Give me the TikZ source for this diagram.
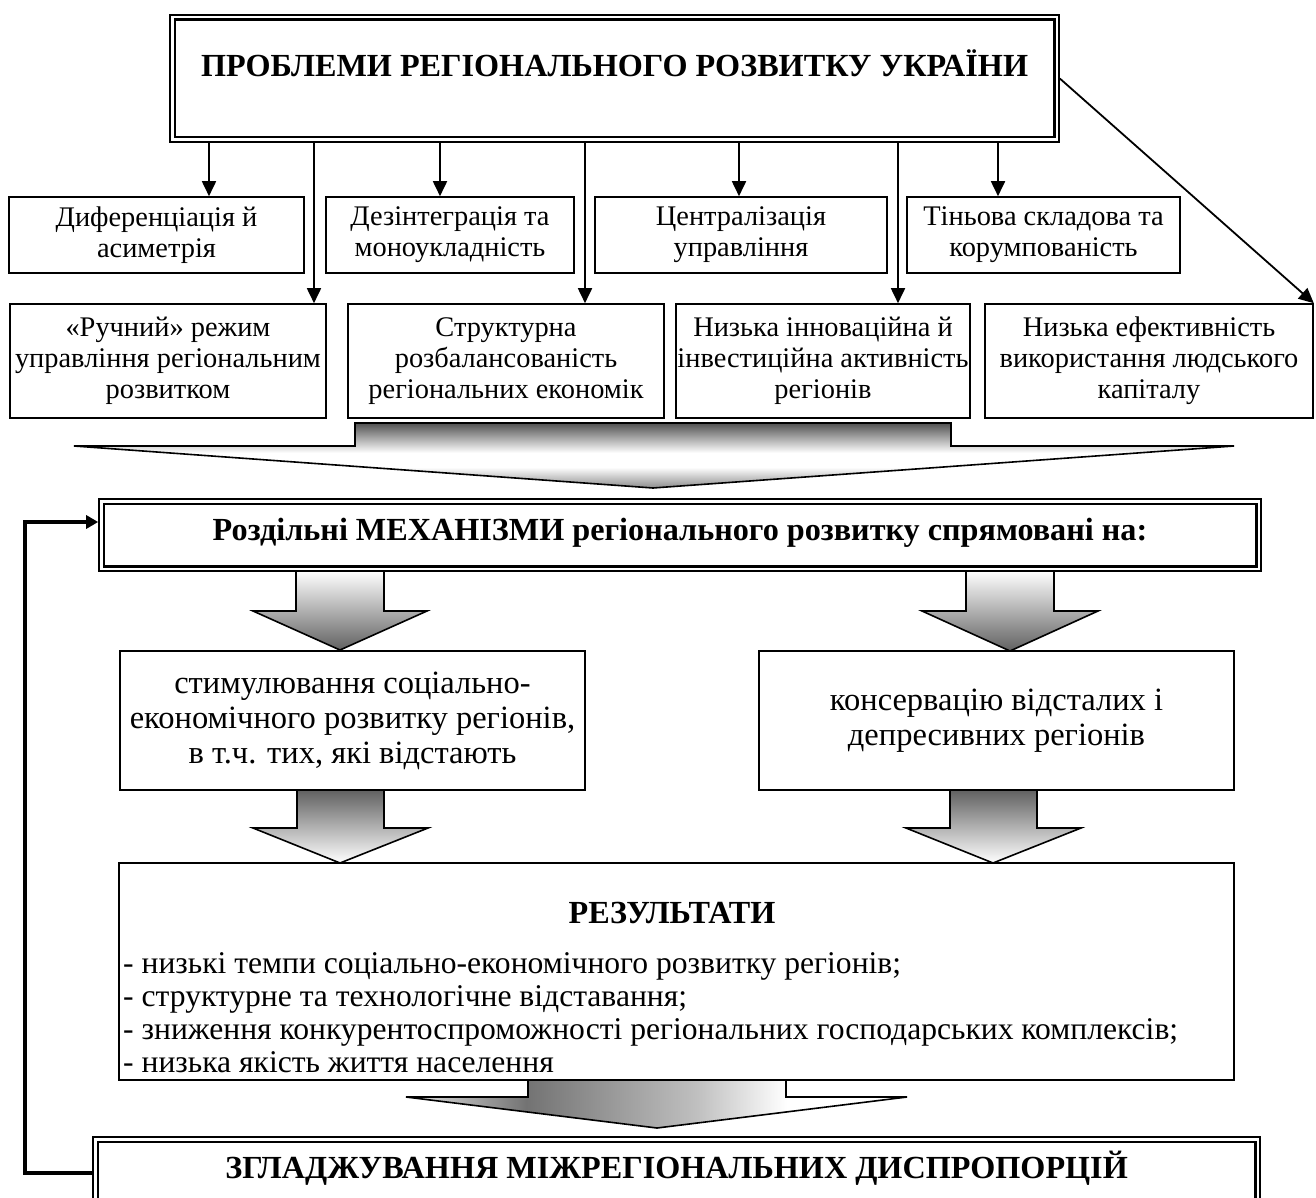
\documentclass[tikz,border=0pt]{standalone}
\usepackage{fontspec}
\setmainfont{Liberation Serif}
\usetikzlibrary{arrows.meta,calc}
\newcommand\fsTop{\fontsize{28.4}{31}\selectfont}
\newcommand\fsLow{\fontsize{32.5}{35}\selectfont}
\newcommand\fsRes{\fontsize{31.6}{33}\selectfont}
\newcommand\fsHead{\fontsize{32.2}{35}\selectfont\bfseries}
\pgfdeclareverticalshading{shA}{100bp}{color(0bp)=(black!45); color(25bp)=(black!45); color(41bp)=(white); color(52bp)=(white); color(75bp)=(black!68); color(100bp)=(black!68)}
\pgfdeclareverticalshading{shB}{100bp}{color(0bp)=(black!62); color(25bp)=(black!62); color(75bp)=(white); color(100bp)=(white)}
\pgfdeclareverticalshading{shC}{100bp}{color(0bp)=(white); color(25bp)=(white); color(75bp)=(black!62); color(100bp)=(black!62)}
\pgfdeclarehorizontalshading{shD}{100bp}{color(0bp)=(black!10); color(25bp)=(black!10); color(37bp)=(black!55); color(54bp)=(black!25); color(63bp)=(white); color(100bp)=(white)}
\begin{document}
\begin{tikzpicture}[x=1pt,y=-1pt,
  box/.style={draw, line width=1.6pt, align=center, inner xsep=1pt, inner ysep=2pt, font=\fsTop},
  lowbox/.style={box, font=\fsLow},
  arr/.style={line width=1.8pt, -{Triangle[width=14pt,length=15pt]}},
  fb/.style={line width=3.4pt, -{Triangle[width=13pt,length=12pt]}},
  blk/.style={draw, line width=1.6pt, line join=miter},
  txt/.style={inner sep=0pt}
]
\clip (0,0) rectangle (1316,1198);
\fill[white] (0,0) rectangle (1316,1198);

% title
\node[draw, line width=1.6pt, minimum width=889pt, minimum height=127pt] (T) at (614.5,78.5) {};
\draw[line width=2.4pt] ([xshift=5.5pt,yshift=-5.5pt]T.north west) rectangle ([xshift=-5.5pt,yshift=5.5pt]T.south east);
\node[txt, font=\fsHead, anchor=base] (Tt) at (614.5,77) {ПРОБЛЕМИ РЕГІОНАЛЬНОГО РОЗВИТКУ УКРАЇНИ};

% row 1
\node[box, minimum width=295pt, minimum height=76pt] (A1) at (156.5,235) {Диференціація й\\асиметрія};
\node[box, minimum width=248pt, minimum height=76pt] (A2) at (450,235) {Дезінтеграція та\\моноукладність};
\node[box, minimum width=292pt, minimum height=76pt] (A3) at (741,235) {Централізація\\управління};
\node[box, minimum width=273pt, minimum height=76pt] (A4) at (1043.5,235) {Тіньова складова та\\корумпованість};

% row 2
\node[box, minimum width=316pt, minimum height=114pt] (B1) at (168,361) {«Ручний» режим\\управління регіональним\\розвитком};
\node[box, minimum width=316pt, minimum height=114pt] (B2) at (506,361) {Структурна\\розбалансованість\\регіональних економік};
\node[box, minimum width=294pt, minimum height=114pt] (B3) at (823,361) {Низька інноваційна й\\інвестиційна активність\\регіонів};
\node[box, minimum width=328pt, minimum height=114pt] (B4) at (1149,361) {Низька ефективність\\використання людського\\капіталу};

% arrows from title
\coordinate (x1) at (209,0);
\coordinate (x2) at (440,0);
\coordinate (x3) at (739,0);
\coordinate (x4) at (998,0);
\coordinate (x5) at (314,0);
\coordinate (x6) at (585,0);
\coordinate (x7) at (898,0);
\draw[arr] (T.south -| x1) -- (A1.north -| x1);
\draw[arr] (T.south -| x2) -- (A2.north -| x2);
\draw[arr] (T.south -| x3) -- (A3.north -| x3);
\draw[arr] (T.south -| x4) -- (A4.north -| x4);
\draw[arr] (T.south -| x5) -- (B1.north -| x5);
\draw[arr] (T.south -| x6) -- (B2.north -| x6);
\draw[arr] (T.south -| x7) -- (B3.north -| x7);
\draw[arr] (T.east) -- (B4.north east);

% big block arrow 1
\shade[shading=shA] (355,423) -- (951,423) -- (951,446) -- (1234,446) -- (653,488) -- (74,446) -- (355,446) -- cycle;
\draw[blk] (355,423) -- (951,423) -- (951,446) -- (1234,446) -- (653,488) -- (74,446) -- (355,446) -- cycle;

% mechanisms box
\node[draw, line width=1.6pt, minimum width=1162pt, minimum height=72pt] (M) at (680,535) {};
\draw[line width=2.4pt] ([xshift=5.5pt,yshift=-5.5pt]M.north west) rectangle ([xshift=-5.5pt,yshift=5.5pt]M.south east);
\node[txt, font=\fsHead, anchor=base] (Mt) at (680,540) {Роздільні МЕХАНІЗМИ регіонального розвитку спрямовані на:};

% block arrows 2,3
\shade[shading=shB] (296,571) -- (384,571) -- (384,611) -- (427,611) -- (340,650) -- (253,611) -- (296,611) -- cycle;
\draw[blk] (296,571) -- (384,571) -- (384,611) -- (427,611) -- (340,650) -- (253,611) -- (296,611) -- cycle;
\shade[shading=shB] (966,571) -- (1054,571) -- (1054,611) -- (1098,611) -- (1010,651) -- (922,611) -- (966,611) -- cycle;
\draw[blk] (966,571) -- (1054,571) -- (1054,611) -- (1098,611) -- (1010,651) -- (922,611) -- (966,611) -- cycle;

% middle boxes
\node[lowbox, minimum width=465pt, minimum height=139pt] (S) at (352.5,720.5) {стимулювання соціально-\\економічного розвитку регіонів,\\в т.ч. тих, які відстають};
\node[lowbox, minimum width=475pt, minimum height=139pt] (K) at (996.5,720.5) {консервацію відсталих і\\депресивних регіонів};

% block arrows 4,5
\shade[shading=shC] (297,790) -- (384,790) -- (384,828) -- (428,828) -- (340,863) -- (253,828) -- (297,828) -- cycle;
\draw[blk] (297,790) -- (384,790) -- (384,828) -- (428,828) -- (340,863) -- (253,828) -- (297,828) -- cycle;
\shade[shading=shC] (950,790) -- (1037,790) -- (1037,828) -- (1081,828) -- (993,863) -- (906,828) -- (950,828) -- cycle;
\draw[blk] (950,790) -- (1037,790) -- (1037,828) -- (1081,828) -- (993,863) -- (906,828) -- (950,828) -- cycle;

% results
\node[draw, line width=1.6pt, minimum width=1115pt, minimum height=217pt] (R) at (676.5,971.5) {};
\node[txt, font=\fsHead, anchor=base] (Rt) at (672,923) {РЕЗУЛЬТАТИ};
\node[txt, font=\fsRes, anchor=base west] (R1) at (123,973) {- низькі темпи соціально-економічного розвитку регіонів;};
\node[txt, font=\fsRes, anchor=base west] (R2) at (123,1006) {- структурне та технологічне відставання;};
\node[txt, font=\fsRes, anchor=base west] (R3) at (123,1039) {- зниження конкурентоспроможності регіональних господарських комплексів;};
\node[txt, font=\fsRes, anchor=base west] (R4) at (123,1072) {- низька якість життя населення};

% block arrow 6
\shade[shading=shD] (528,1080) -- (786,1080) -- (786,1097) -- (907,1097) -- (657,1128) -- (406,1097) -- (528,1097) -- cycle;
\draw[blk] (528,1080) -- (786,1080) -- (786,1097) -- (907,1097) -- (657,1128) -- (406,1097) -- (528,1097) -- cycle;

% bottom box
\node[draw, line width=1.6pt, minimum width=1167pt, minimum height=100pt] (Z) at (676.5,1187) {};
\draw[line width=2.4pt] ([xshift=5.5pt,yshift=-5.5pt]Z.north west) rectangle ([xshift=-5.5pt,yshift=5.5pt]Z.south east);
\node[txt, font=\fsHead, anchor=base] (Zt) at (676.5,1178) {ЗГЛАДЖУВАННЯ МІЖРЕГІОНАЛЬНИХ ДИСПРОПОРЦІЙ};

% feedback loop
\coordinate (lp) at (25,1173);
\coordinate (lq) at (25,522);
\draw[fb] (Z.west |- lp) -- (lp) -- (lq) -- (M.west |- lq);
\end{tikzpicture}
\end{document}
